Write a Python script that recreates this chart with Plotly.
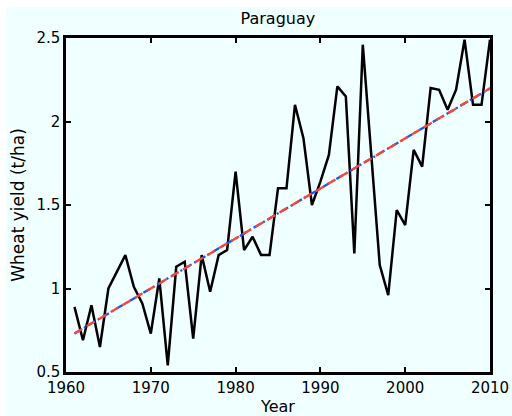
import numpy as np
import plotly.graph_objects as go

years = list(range(1961, 2011))
yield_tha = [0.89, 0.69, 0.90, 0.65, 1.00, 1.10, 1.20, 1.01, 0.91, 0.73,
             1.06, 0.54, 1.13, 1.16, 0.70, 1.20, 0.98, 1.20, 1.23, 1.70,
             1.23, 1.31, 1.20, 1.20, 1.60, 1.60, 2.10, 1.90, 1.50, 1.64,
             1.80, 2.21, 2.15, 1.21, 2.46, 1.80, 1.14, 0.96, 1.47, 1.38,
             1.83, 1.73, 2.20, 2.19, 2.07, 2.19, 2.49, 2.10, 2.10, 2.49]

x = np.array(years, dtype=float)
y = np.array(yield_tha)
slope, icpt = np.polyfit(x, y, 1)
trend = list(slope * x + icpt)

font = "DejaVu Sans, sans-serif"
bg = "#F0FFFF"

fig = go.Figure()
fig.add_trace(go.Scatter(x=years, y=yield_tha, mode="lines",
                         line=dict(color="black", width=2.5), showlegend=False))
fig.add_trace(go.Scatter(x=years, y=trend, mode="lines",
                         line=dict(color="#1A55FF", width=2.3, dash="8px,3px,2px,3px"),
                         showlegend=False))
fig.add_trace(go.Scatter(x=years, y=trend, mode="lines",
                         line=dict(color="#FF4433", width=2.3, dash="9px,5px"),
                         showlegend=False))

fig.add_shape(type="rect", xref="paper", yref="paper",
              x0=(6 - 66) / 424, x1=(512 - 66) / 424,
              y0=-44 / 334, y1=(416 - 7 - 44) / 334,
              fillcolor=bg, line=dict(width=0), layer="below")

axis_common = dict(showgrid=False, zeroline=False, showline=True, linecolor="black",
                   linewidth=2.5, mirror="ticks", ticks="inside", ticklen=5,
                   tickwidth=1.5, tickcolor="black", automargin=False,
                   tickfont=dict(family=font, size=15, color="black"))

fig.update_layout(
    width=512, height=416,
    margin=dict(l=66, r=22, t=38, b=44),
    paper_bgcolor="white", plot_bgcolor=bg,
    font=dict(family=font, size=15, color="black"),
    title=dict(text="Paraguay", x=0.5427, xanchor="center", y=1 - 18 / 416,
               yanchor="middle", font=dict(family=font, size=16, color="black")),
    xaxis=dict(range=[1960, 2010], tickvals=[1960, 1970, 1980, 1990, 2000, 2010],
               title=dict(text="Year", standoff=10,
                          font=dict(family=font, size=16, color="black")),
               **axis_common),
    yaxis=dict(range=[0.5, 2.5], tickvals=[0.5, 1, 1.5, 2, 2.5],
               ticktext=["0.5", "1", "1.5", "2", "2.5"],
               title=dict(text="Wheat yield (t/ha)", standoff=8,
                          font=dict(family=font, size=17, color="black")),
               **axis_common),
)

fig.write_html("out.html")
